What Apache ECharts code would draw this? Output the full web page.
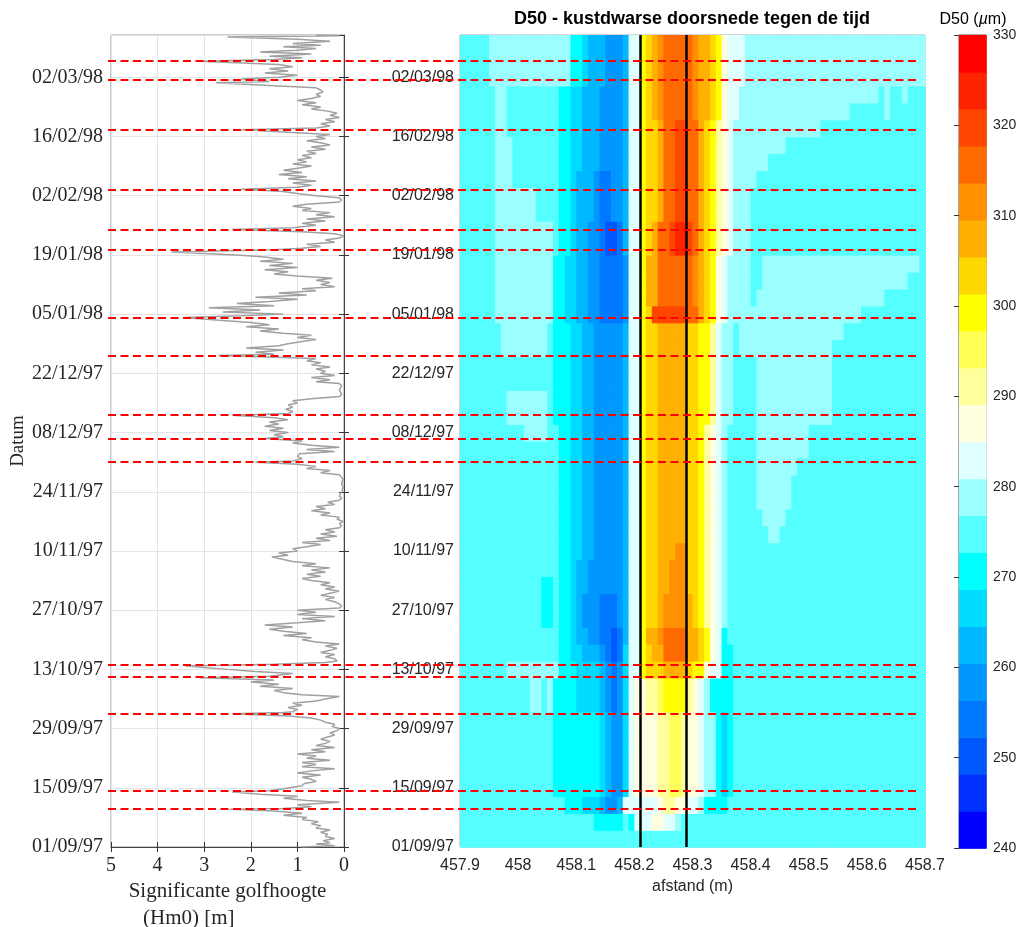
<!DOCTYPE html>
<html><head><meta charset="utf-8">
<script src="https://cdn.jsdelivr.net/npm/echarts@6/dist/echarts.min.js"></script>
<style>html,body{margin:0;padding:0;background:#fff}#c{width:1018px;height:927px}</style>
</head><body><div id="c"></div>
<script>
// ---- time base: y values are days since 01/09/1997 ----
const START = Date.UTC(1997, 8, 1);
const DAY_MIN = 0, DAY_MAX = 192, DAY_TICK = 14;

// storm moments (red dashed lines), days since 01/09/97
const stormDays = [9.0, 13.2, 31.6, 40.2, 43.1, 91.0, 96.6, 102.1, 116.2, 125.2, 141.3, 146.0, 155.4, 169.6, 181.5, 185.8];
// profile boundaries (black vertical lines), metres
const profileBounds = [458.206, 458.286];

// significant wave height Hm0 [m] vs day
const waveDay = [0,0.3,0.7,1,1.5,2,2.5,3,3.5,4,4.5,5,5.5,6,6.5,7,7.5,8,8.5,8.9,9.1,9.5,10,10.6,11,11.5,12,12.5,13,13.3,13.8,14.5,
15,15.5,16,16.5,17,17.5,18,18.5,19,19.5,20,20.5,21,21.5,22,22.5,23,23.5,24,24.5,25,25.5,26,26.5,27,27.5,28,
28.5,29,29.5,30,30.5,31,31.5,31.8,32,32.5,33,33.5,34,34.5,35,35.6,36,36.5,37,37.5,38,38.5,39,39.5,40,40.4,41,41.5,42,42.8,43.2,43.6,44,
44.5,45,45.5,46,46.5,47,47.5,48,48.5,49,49.5,50,50.5,51,51.5,52,52.5,53,53.5,54,54.5,55,55.5,56,
56.5,57,57.5,58,58.5,59,59.5,60,60.5,61,61.5,62,62.5,63,
63.5,64,64.5,65,65.5,66,66.5,67,67.5,68,68.6,69,69.5,70,70.5,71,
71.5,72,72.5,73,73.5,74,74.5,75,75.5,
76,76.5,77,77.5,78,78.5,79,79.5,80,80.5,81,81.5,82,
82.5,83,84,85,86,87,88,
88.5,89,89.5,90,90.5,91,91.3,91.8,92.3,93,
93.5,94,94.5,95,95.5,96,96.6,
97,97.5,98,98.5,99,99.5,100,100.5,101,101.5,102.1,
102.5,103,103.5,104,104.5,105,105.5,106,
106.5,107,108,109,109.6,
110,110.5,111,111.5,112,112.5,113,113.5,114,114.5,115,115.5,116.2,
116.5,117,117.5,118,118.5,119,119.5,120,120.5,121,
121.5,122,122.5,123,123.5,124,124.5,125.2,
125.6,126,126.5,127,127.5,128,128.5,129,
129.5,130,130.5,131,131.5,132,132.5,133,133.5,134,134.5,
135,135.5,136,136.5,137,137.5,138,138.5,139,139.5,140,140.7,
141.2,141.6,142,142.5,143,143.5,144,144.5,
145,145.5,146,146.4,147,147.5,148,148.5,149,149.5,150,
150.5,151,151.5,152,152.5,153,153.5,154,154.5,155,155.5,
156,156.5,157,157.5,158,158.5,159,159.5,160,160.5,161,
161.5,162,162.5,163,163.5,164,164.5,165,165.5,166,166.5,167,167.5,168,168.5,169,169.6,
170,170.5,171,171.5,172,172.5,173,173.5,174,
174.5,175,175.5,176,176.5,177,177.5,178,178.5,179,179.5,180,180.7,181,181.6,
182,182.5,183,183.5,184,184.5,185,185.8,
186.2,186.6,187,187.5,188,188.4,188.8,189.2,189.6,190,190.5,191,191.5,191.8,192];
const waveHm0 = [0.9,0.2,0.6,0.3,0.45,0.2,0.4,0.35,0.5,0.3,0.6,0.5,0.7,0.55,0.9,0.8,1.3,0.9,1.5,2.45,1.3,0.7,1.0,0.1,0.8,1.3,1.0,1.8,2.4,1.6,1.3,0.9,
0.85,0.6,0.7,0.9,0.5,1.0,0.7,0.2,0.9,0.6,0.9,0.3,0.8,0.6,1.0,0.4,0.7,0.2,0.6,0.4,0.3,0.5,0.35,0.2,0.3,0.15,0.1,
0.25,0.2,0.4,0.5,0.7,1.2,2.4,1.3,1.1,1.0,1.2,0.9,1.1,0.6,0.4,0.1,0.9,1.3,1.5,1.1,1.8,1.4,2.0,1.5,3.1,1.6,1.1,1.9,2.5,3.4,1.5,0.4,0.15,
0.2,0.4,0.2,0.5,0.3,0.15,0.4,0.1,0.6,0.9,0.7,1.3,0.8,1.3,1.6,1.1,1.7,1.0,0.4,0.9,0.2,1.0,0.6,1.0,
0.1,0.05,0.1,0.2,0.4,0.2,0.5,0.3,0.1,0.4,0.2,0.5,0.3,0.7,
0.9,0.5,0.8,0.4,0.7,0.3,0.9,0.6,1.1,1.3,1.55,1.2,1.4,1.0,1.1,0.8,
0.5,0.9,0.3,0.6,0.15,0.5,0.2,0.4,0.1,
0.05,0.1,0.02,0.15,0.1,0.5,0.3,0.7,0.4,0.6,0.2,0.35,0.1,
0.05,0.1,0.05,0.02,0.05,0.02,0.1,
0.5,0.3,0.8,0.6,1.0,1.9,1.1,0.9,1.0,0.95,
0.2,0.8,0.1,0.7,1.1,0.9,1.7,
1.3,1.5,1.2,1.6,1.3,1.7,1.4,1.6,1.2,1.5,2.4,
1.2,1.1,1.25,1.1,1.2,1.0,1.1,0.7,
0.1,0.05,0.1,0.05,0.1,
0.6,0.3,0.7,0.2,0.5,0.4,0.6,0.3,0.7,0.5,0.8,0.6,2.7,
1.5,1.9,1.3,2.1,1.4,1.2,0.9,0.6,1.0,0.7,
1.3,1.8,1.4,2.1,1.6,2.0,2.6,3.45,
2.2,1.3,2.6,1.8,2.9,1.5,2.3,1.6,
1.0,1.9,0.8,1.4,0.6,0.9,0.2,0.5,0.3,0.6,0.25,
1.0,1.5,1.2,1.7,1.0,1.6,1.1,1.8,1.3,1.7,2.3,3.7,
1.5,0.9,0.5,0.8,0.2,0.4,0.1,0.0,
0.2,0.9,2.4,1.1,0.6,0.9,0.4,0.8,0.2,0.6,0.3,
0.9,0.7,1.1,0.8,0.1,0.05,0.1,0.6,1.0,1.3,2.2,
1.0,0.7,1.1,0.6,1.2,0.8,1.4,0.9,1.3,1.0,0.7,
1.1,0.8,1.0,0.7,0.9,0.6,0.8,0.4,0.7,0.3,0.5,0.8,0.4,0.6,0.3,1.2,2.2,
0.6,0.3,0.5,0.2,0.4,0.1,0.3,0.15,0.35,
0.7,0.5,0.9,0.6,1.0,0.7,0.5,0.6,0.45,0.5,0.6,1.5,2.75,1.6,2.2,
1.4,1.0,1.7,1.2,1.6,1.1,1.4,3.1,
1.5,0.9,1.6,0.7,1.8,1.0,0.6,1.3,0.5,1.1,0.3,1.0,2.5,0.1,0.6];

// ---- D50 colour scale: 22 classes between 240 and 330 µm ----
const d50Min = 240, d50Max = 330;
const d50Colors = ['#0000FF','#0030FF','#0058FF','#0078FF','#0098FF','#00B8FF','#00DCFF','#00FFFF','#55FFFF','#9CFFFF','#E0FFFF',
                   '#FFFFE0','#FFFF9C','#FFFF55','#FFFF00','#FFD800','#FFB000','#FF9000','#FF6A00','#FF4600','#FF2400','#FF0000'];

// ---- D50 cross-shore section: 80 columns of 0.01 m from 457.90 m, rows of 4 days (bottom -> top)
// each letter = colour class (a = 240-244 µm ... v = 326-330 µm), number = repeat count
const distStart = 457.9, distStep = 0.01, rowDays = 4;
const d50Rows = [
 "i80",                                                                      // 01/09
 "i16 i7 h5 i h k3 l2 k2 j i10 i32",
 "i16 i2 h3 g3 f e2 f k2 k4 l m2 l2 k2 j h4 i2 i32",
 "i16 h8 g f e2 g k l4 m2 n2 m l2 k j2 h g h i i32",
 "i16 h8 g f e2 g k l4 m2 n2 m l2 k j2 h g h i i32",
 "i16 h8 g f e2 g k l4 m2 n2 m l2 k j2 h g h i i32",                          // 21/09
 "i16 h8 g f e2 g k l4 m2 n2 m l2 k j2 h g h i i32",
 "i16 h8 g f e2 g k l4 m2 n2 m l2 k j2 h g h i i32",
 "i12 j2 i j h4 g4 f e d e g k l2 m2 n o4 m l k j h4 i i32",
 "i12 j2 i j h4 g4 f e d e g k l2 m2 n o4 m l k j h4 i i32",
 "i8 j8 j h3 g4 f e d e g k k o p3 q4 p o2 l k2 h2 i i32",                    // 11/10
 "i16 i h2 g2 f3 e d c d g k k o p q2 s4 q2 p o l k h2 i i32",
 "i16 i h2 g f2 e2 d2 c d f k k o q2 r s4 q2 p o l k h i2 i32",
 "i14 h2 i h2 g f e3 d3 e f k k o p2 q r4 q p o m l k j i2 i32",
 "i14 h2 i h2 g f e3 d3 e f k k o p2 q r4 q p o m l k j i2 i32",
 "i14 h2 i h2 g f2 e6 f k k o p2 q2 r3 p2 o m l k j i2 i32",                  // 31/10
 "i16 i h2 g f2 e6 f k k o p2 q2 r3 p2 o m l k j i2 i32",
 "i16 i h2 g2 f2 e5 f k k o p2 q3 r2 p2 o m l k j i2 i32",
 "i16 i h2 g2 f2 e5 f k k o p2 q5 p2 o m l k j i2 i5 j2 i25",
 "i16 i h2 g2 f2 e5 f k k o p2 q5 p2 o m l k j i2 i4 j4 i24",
 "i16 i h2 g2 f2 e5 f k k o p2 q5 p2 o m l k j i2 i3 j6 i23",                 // 20/11
 "i16 i h2 g2 f2 e5 f k k o p2 q5 p2 o m l k j i2 i3 j6 i23",
 "i16 i h2 g2 f2 e5 f k k o p2 q5 p2 o m l k j i2 i3 j7 i22",
 "i16 i h2 g2 f2 e5 f k k o p2 q5 p2 o m l k j i2 i3 j9 i20",
 "i11 j4 i i h2 g2 f2 e5 f k k o p2 q5 p2 o m l k j i2 i3 j9 i20",
 "i8 j7 i h3 g2 f2 e5 f k k o p2 q5 p2 o2 m k j2 i i3 j13 i16",               // 10/12
 "i8 j7 i h3 g2 f2 e5 f k k o p2 q5 p2 o2 m k j2 i i3 j13 i16",
 "i16 h3 g2 f2 e5 f k k o p2 q5 p2 o2 m k j2 i i3 j13 i16",
 "i16 h3 g2 f2 e5 f k k o p2 q5 p2 o2 m k j2 i i3 j13 i16",
 "i7 j8 i h3 g2 f2 e5 f k k o p2 q5 p2 o2 m k j2 i j16 i16",
 "i7 j8 i h3 g2 f2 e5 f k k o p2 q5 p2 o2 m k j2 i j18 i14",                  // 30/12
 "i6 j10 h2 g2 f2 e2 d4 e k k o p t6 s2 q p o l k j2 j21 i11",
 "i6 j10 h2 g2 f2 e2 d4 e k k o q2 s6 r q p o l k j2 j2 i j22 i7",
 "i6 j10 h2 g2 f2 e2 d4 e k k o q2 s6 r q p o l k j2 j2 i2 j25 i3",
 "i6 j10 h2 g2 f2 e2 d4 e k k o q2 s6 r q p o l k j2 j2 i2 j27 i",
 "i6 j10 i h2 g f2 e2 d c2 d f k k o p q s2 t u2 t s q p o m l k j j2 i30",  // 19/01
 "i6 j10 i h2 g f2 e2 d c2 d f k k o p q s2 t u2 t s q p o m l k j j2 i30",
 "i6 j7 i3 i h2 g f3 e d2 e2 f k k o p2 q s2 t2 s2 q p o m l k j j2 i30",
 "i6 j7 i3 i h2 g f3 e d2 e2 f k k o p2 q s2 t2 s2 q p o m l k j j2 i30",
 "i6 j3 i7 i h2 g f3 e d2 e2 f k k o p2 q s2 t2 s2 q p o m l k j j3 i29",
 "i6 j3 i7 i h2 g2 f3 e4 f k k o p2 q s2 t2 s2 q p o m l k j j5 i27",         // 08/02
 "i6 j3 i7 i h2 g2 f3 e4 f k k o p2 q s2 t2 s2 q p o m l k j j8 i24",
 "i6 j2 i8 i h2 g2 f3 e4 f k k o p2 q s2 t2 s2 q p o m l k j j14 i18",
 "i6 j2 i8 i h2 g2 f3 e4 f k k o p q r s5 r q2 p o l k2 j19 i6 j i6",
 "i6 j2 i8 i h2 g2 f3 e4 f k k o p q r s5 r q2 p o l k2 j24 i j i2 j i3",
 "i5 j11 j3 h2 g f3 e3 f k k o p q r s5 r q2 p o l k2 k j31",                  // 28/02
 "i5 j11 j3 h2 g f3 e3 f k k o p q r s5 r q2 p o l k2 k j31",
 "i5 j11 j3 h2 g f3 e3 f k k o p q r s5 r q2 p o l k2 k j31"
];

// ---------- build ----------
const NCOL = 80;
const bandStep = (d50Max - d50Min) / d50Colors.length;
function decodeRow(s) {
  let out = '';
  s.trim().split(/\s+/).forEach(t => { const n = t.length > 1 ? parseInt(t.slice(1), 10) : 1; out += t[0].repeat(n); });
  if (out.length !== NCOL) { console.warn('row length', out.length, s); out = (out + 'i'.repeat(NCOL)).slice(0, NCOL); }
  return out;
}
const heatData = [];
d50Rows.forEach((row, r) => {
  const codes = decodeRow(row);
  for (let c = 0; c < NCOL; c++) {
    const lvl = codes.charCodeAt(c) - 97;
    heatData.push([distStart + c * distStep, distStart + (c + 1) * distStep, r * rowDays, (r + 1) * rowDays, d50Min + (lvl + 0.5) * bandStep]);
  }
});
const barData = d50Colors.map((col, k) => [0, 1, d50Min + k * bandStep, d50Min + (k + 1) * bandStep, d50Min + (k + 0.5) * bandStep]);
const pieces = d50Colors.map((col, k) => ({ gte: d50Min + k * bandStep, lt: d50Min + (k + 1) * bandStep, color: col }));
const waveData = waveDay.map((d, i) => [waveHm0[i], d]);

function fmtDay(v) {
  const d = new Date(START + Math.round(v) * 86400000);
  const p = n => String(n).padStart(2, '0');
  return p(d.getUTCDate()) + '/' + p(d.getUTCMonth() + 1) + '/' + p(d.getUTCFullYear() % 100);
}
function rectItem(params, api) {
  const p0 = api.coord([api.value(0), api.value(3)]);
  const p1 = api.coord([api.value(1), api.value(2)]);
  return { type: 'rect', shape: { x: p0[0], y: p0[1], width: p1[0] - p0[0] + 0.7, height: p1[1] - p0[1] + 0.7 },
           style: { fill: api.visual('color') } };
}

const SERIF = '"Liberation Serif","Times New Roman",serif';
const SANS = '"Liberation Sans",Arial,sans-serif';
const TXT = '#262626';

const chart = echarts.init(document.getElementById('c'), null, { renderer: 'canvas' });
chart.setOption({
  animation: false,
  backgroundColor: '#fff',
  grid: [
    { left: 111, top: 35, width: 233, height: 812, show: true, borderColor: '#999', borderWidth: 1, backgroundColor: 'transparent', outerBoundsMode: 'none' },
    { left: 460, top: 35, width: 465, height: 812, show: true, borderColor: '#aaa', borderWidth: 1, backgroundColor: 'transparent', outerBoundsMode: 'none' },
    { left: 959, top: 35, width: 27, height: 813, show: true, borderColor: '#555', borderWidth: 1, backgroundColor: 'transparent', outerBoundsMode: 'none' },
    { left: 108, top: 35, width: 811, height: 812, outerBoundsMode: 'none' }
  ],
  xAxis: [
    { gridIndex: 0, type: 'value', min: 0, max: 5, interval: 1, inverse: true, position: 'bottom',
      axisLine: { show: true, lineStyle: { color: '#444' } },
      axisTick: { show: true, inside: true, length: 5, lineStyle: { color: '#333' } },
      axisLabel: { margin: 9, fontFamily: SERIF, fontSize: 20, color: TXT },
      splitLine: { show: true, lineStyle: { color: '#e3e3e3' } },
      name: 'Significante golfhoogte', nameLocation: 'middle', nameGap: 34,
      nameTextStyle: { fontFamily: SERIF, fontSize: 21, color: TXT } },
    { gridIndex: 0, type: 'value', min: 0, max: 5, interval: 1, inverse: true, position: 'top',
      axisLine: { show: false }, axisTick: { show: true, inside: true, length: 5, lineStyle: { color: '#333' } },
      axisLabel: { show: false }, splitLine: { show: false } },
    { gridIndex: 1, type: 'value', min: 457.9, max: 458.7, interval: 0.1,
      axisLine: { show: false }, axisTick: { show: false },
      axisLabel: { margin: 11, fontFamily: SANS, fontSize: 16, color: TXT, formatter: v => String(+v.toFixed(1)) },
      splitLine: { show: false },
      name: 'afstand (m)', nameLocation: 'middle', nameGap: 31,
      nameTextStyle: { fontFamily: SANS, fontSize: 16, color: TXT } },
    { gridIndex: 2, type: 'value', min: 0, max: 1, show: false },
    { gridIndex: 3, type: 'value', min: 0, max: 1, show: false }
  ],
  yAxis: [
    { gridIndex: 0, type: 'value', min: DAY_MIN, max: DAY_MAX, interval: DAY_TICK, position: 'left',
      axisLine: { show: true, lineStyle: { color: '#444' } },
      axisTick: { show: true, inside: true, length: 5, lineStyle: { color: '#333' } },
      axisLabel: { margin: 8, fontFamily: SERIF, fontSize: 20, color: TXT, formatter: fmtDay, showMaxLabel: false },
      splitLine: { show: true, lineStyle: { color: '#e3e3e3' } },
      name: 'Datum', nameLocation: 'middle', nameRotate: 90, nameGap: 83,
      nameTextStyle: { fontFamily: SERIF, fontSize: 19, color: TXT } },
    { gridIndex: 0, type: 'value', min: DAY_MIN, max: DAY_MAX, interval: DAY_TICK, position: 'right',
      axisLine: { show: false }, axisTick: { show: true, inside: true, length: 5, lineStyle: { color: '#333' } },
      axisLabel: { show: false }, splitLine: { show: false } },
    { gridIndex: 1, type: 'value', min: DAY_MIN, max: DAY_MAX, interval: DAY_TICK,
      axisLine: { show: false }, axisTick: { show: false },
      axisLabel: { margin: 6, fontFamily: SANS, fontSize: 16, color: TXT, formatter: fmtDay, showMaxLabel: false },
      splitLine: { show: false } },
    { gridIndex: 2, type: 'value', min: d50Min, max: d50Max, interval: 10, position: 'right',
      axisLine: { show: false }, axisTick: { show: true, inside: true, length: 5, lineStyle: { color: '#333' } },
      axisLabel: { margin: 7, fontFamily: SANS, fontSize: 14, color: TXT }, splitLine: { show: false } },
    { gridIndex: 3, type: 'value', min: DAY_MIN, max: DAY_MAX, show: false }
  ],
  visualMap: { type: 'piecewise', show: false, dimension: 4, seriesIndex: [0, 1], pieces: pieces },
  series: [
    { type: 'custom', name: 'D50', xAxisIndex: 2, yAxisIndex: 2, renderItem: rectItem, data: heatData,
      encode: { x: [0, 1], y: [2, 3] }, silent: true, z: 2 },
    { type: 'custom', name: 'colorbar', xAxisIndex: 3, yAxisIndex: 3, renderItem: rectItem, data: barData,
      encode: { x: [0, 1], y: [2, 3] }, silent: true, z: 2 },
    { type: 'line', name: 'Hm0', xAxisIndex: 0, yAxisIndex: 0, data: waveData, showSymbol: false, symbol: 'none',
      lineStyle: { color: '#a0a0a0', width: 1.5 }, silent: true, z: 3 },
    { type: 'line', name: 'profiel', xAxisIndex: 2, yAxisIndex: 2, data: [[457.9, 0], [457.91, 0]], symbol: 'none',
      lineStyle: { opacity: 0 }, silent: true, z: 5,
      markLine: { silent: true, symbol: ['none', 'none'], label: { show: false }, animation: false,
        lineStyle: { color: '#000', width: 2.5, type: 'solid' },
        data: profileBounds.map(x => ({ xAxis: x })) } },
    { type: 'line', name: 'stormen', xAxisIndex: 4, yAxisIndex: 4, data: [[0, 0], [1, 0]], symbol: 'none',
      lineStyle: { opacity: 0 }, silent: true, z: 10,
      markLine: { silent: true, symbol: ['none', 'none'], label: { show: false }, animation: false,
        lineStyle: { color: '#ff0000', width: 2, type: [8, 4.5] },
        data: stormDays.map(d => ({ yAxis: d })) } }
  ],
  graphic: [
    { type: 'text', x: 692, y: 19, z: 20,
      style: { text: 'D50 - kustdwarse doorsnede tegen de tijd', font: 'bold 18px ' + SANS, fill: '#000', textAlign: 'center', textVerticalAlign: 'middle' } },
    { type: 'text', x: 973, y: 20, z: 20,
      style: { text: 'D50 ({mu|\u00b5}m)', font: '16px ' + SANS, fill: '#000', textAlign: 'center', textVerticalAlign: 'middle',
               rich: { mu: { fontStyle: 'italic', fontFamily: SANS, fontSize: 16 } } } },
    { type: 'text', x: 143, y: 918, z: 20,
      style: { text: '(Hm0) [m]', font: '21px ' + SERIF, fill: TXT, textAlign: 'left', textVerticalAlign: 'middle' } }
  ]
});
</script>
</body></html>
